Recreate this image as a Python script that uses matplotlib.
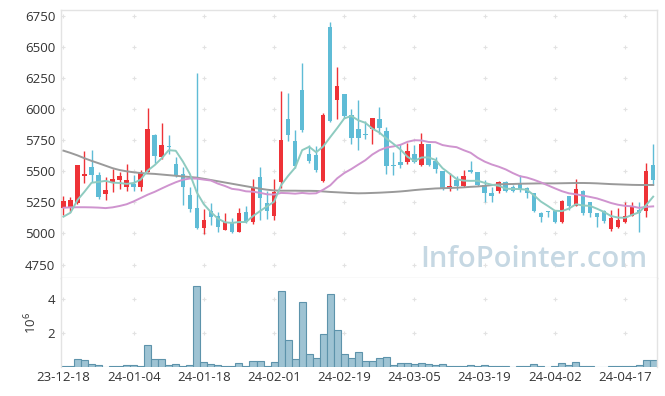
import matplotlib
matplotlib.use('Agg')
import matplotlib.pyplot as plt
import numpy as np

plt.rcParams['font.family'] = ['Open Sans', 'DejaVu Sans']

# daily candles, 2023-12-18 .. 2024-04-23 (85 trading days)
opens = [5202, 5216, 5248, 5462, 5532, 5468, 5318, 5414, 5430, 5374,
         5398, 5374, 5497, 5792, 5612, 5703, 5559, 5476, 5310, 5205,
         5041, 5183, 5138, 5031, 5090, 5015, 5170, 5090, 5452, 5242,
         5143, 5411, 5920, 5744, 6154, 5639, 5631, 5425, 6658, 6073,
         6122, 5950, 5839, 5803, 5837, 5920, 5824, 5553, 5575, 5577,
         5639, 5551, 5719, 5585, 5502, 5360, 5430, 5384, 5510, 5497,
         5390, 5328, 5339, 5417, 5376, 5398, 5363, 5323, 5162, 5183,
         5183, 5095, 5301, 5221, 5342, 5256, 5162, 5181, 5033, 5055,
         5095, 5143, 5189, 5183, 5551]
highs = [5302, 5291, 5548, 5666, 5671, 5497, 5452, 5518, 5497, 5556,
         5473, 5510, 6012, 5800, 5886, 5792, 5612, 5537, 5377, 6288,
         5197, 5242, 5175, 5162, 5122, 5202, 5224, 5438, 5532, 5344,
         5435, 6148, 6127, 5832, 6368, 5712, 5704, 5966, 6703, 6341,
         6122, 6005, 6070, 5907, 5931, 6014, 5859, 5658, 5719, 5725,
         5711, 5805, 5719, 5618, 5502, 5489, 5465, 5510, 5583, 5497,
         5430, 5376, 5422, 5425, 5390, 5470, 5376, 5323, 5175, 5183,
         5189, 5269, 5301, 5435, 5350, 5256, 5162, 5189, 5189, 5202,
         5256, 5256, 5256, 5569, 5719]
lows = [5149, 5175, 5237, 5409, 5417, 5275, 5269, 5331, 5360, 5344,
        5344, 5344, 5497, 5570, 5596, 5636, 5457, 5229, 5176, 5036,
        4996, 5068, 5015, 5031, 5001, 5015, 5082, 5074, 5108, 5116,
        5108, 5363, 5744, 5524, 5819, 5569, 5497, 5417, 5899, 5921,
        5926, 5720, 5671, 5757, 5719, 5797, 5478, 5470, 5529, 5559,
        5564, 5543, 5543, 5489, 5350, 5344, 5350, 5376, 5484, 5382,
        5250, 5250, 5323, 5336, 5331, 5331, 5283, 5175, 5095, 5130,
        5087, 5087, 5189, 5221, 5149, 5130, 5055, 5082, 5023, 5041,
        5087, 5143, 5015, 5135, 5390]
closes = [5261, 5269, 5548, 5478, 5473, 5296, 5350, 5438, 5462, 5427,
          5371, 5484, 5837, 5626, 5709, 5693, 5468, 5377, 5200, 5044,
          5108, 5130, 5052, 5090, 5015, 5162, 5090, 5371, 5288, 5183,
          5331, 5752, 5792, 5545, 5832, 5586, 5510, 5953, 5907, 6186,
          5947, 5768, 5768, 5789, 5931, 5845, 5545, 5543, 5551, 5663,
          5577, 5719, 5551, 5516, 5363, 5382, 5382, 5462, 5497, 5390,
          5323, 5304, 5414, 5342, 5344, 5350, 5323, 5183, 5135, 5175,
          5095, 5261, 5221, 5358, 5167, 5162, 5135, 5103, 5122, 5108,
          5141, 5221, 5167, 5502, 5430]
volumes_m = [0.10, 0.10, 0.50, 0.40, 0.20, 0.14, 0.04, 0.08, 0.08, 0.14,
             0.14, 0.08, 1.33, 0.50, 0.50, 0.14, 0.20, 0.08, 0.14, 4.77,
             0.32, 0.20, 0.14, 0.08, 0.08, 0.26, 0.08, 0.38, 0.38, 0.08,
             0.32, 4.47, 1.62, 0.50, 3.82, 0.79, 0.55, 1.98, 4.30, 2.22,
             0.79, 0.55, 0.91, 0.38, 0.38, 0.55, 0.61, 0.14, 0.26, 0.26,
             0.20, 0.26, 0.20, 0.14, 0.20, 0.08, 0.08, 0.08, 0.14, 0.08,
             0.14, 0.08, 0.08, 0.08, 0.03, 0.08, 0.08, 0.20, 0.08, 0.03,
             0.08, 0.26, 0.14, 0.32, 0.08, 0.08, 0.03, 0.03, 0.08, 0.08,
             0.08, 0.08, 0.14, 0.44, 0.44]

ma5 = [5135, 5167, 5269, 5336, 5408, 5415, 5423, 5409, 5406, 5399,
       5406, 5433, 5506, 5550, 5605, 5670, 5665, 5580, 5480, 5330,
       5235, 5172, 5120, 5090, 5085, 5092, 5092, 5140, 5180, 5218,
       5255, 5388, 5463, 5529, 5670, 5697, 5653, 5700, 5775, 5848,
       5925, 5945, 5910, 5890, 5843, 5812, 5764, 5721, 5675, 5617,
       5583, 5611, 5612, 5591, 5525, 5482, 5437, 5425, 5423, 5424,
       5407, 5392, 5384, 5360, 5358, 5357, 5352, 5308, 5257, 5221,
       5183, 5180, 5200, 5235, 5225, 5222, 5199, 5173, 5140, 5128,
       5126, 5150, 5170, 5228, 5296]
ma20 = [5207, 5210, 5211, 5211, 5210, 5208, 5204, 5210, 5221, 5235,
        5258, 5285, 5312, 5335, 5362, 5388, 5412, 5432, 5442, 5441,
        5433, 5426, 5401, 5382, 5359, 5352, 5339, 5336, 5327, 5315,
        5313, 5326, 5324, 5320, 5326, 5321, 5323, 5352, 5387, 5444,
        5486, 5518, 5554, 5589, 5635, 5669, 5691, 5700, 5713, 5737,
        5750, 5748, 5736, 5734, 5711, 5701, 5694, 5670, 5649, 5609,
        5578, 5555, 5537, 5515, 5486, 5461, 5450, 5432, 5411, 5387,
        5363, 5340, 5323, 5315, 5305, 5294, 5282, 5264, 5245, 5231,
        5222, 5218, 5206, 5214, 5218]
ma_long = [5666, 5648, 5628, 5605, 5584, 5565, 5545, 5525, 5510, 5500,
           5492, 5486, 5482, 5479, 5474, 5469, 5464, 5459, 5454, 5449,
           5440, 5430, 5420, 5410, 5400, 5390, 5380, 5370, 5360, 5352,
           5346, 5344, 5344, 5344, 5343, 5343, 5342, 5338, 5334, 5331,
           5328, 5325, 5323, 5324, 5326, 5328, 5331, 5334, 5338, 5343,
           5349, 5354, 5358, 5362, 5364, 5366, 5368, 5371, 5375, 5378,
           5383, 5389, 5395, 5397, 5398, 5400, 5401, 5402, 5403, 5403,
           5403, 5404, 5405, 5406, 5406, 5405, 5403, 5400, 5397, 5395,
           5393, 5391, 5390, 5390, 5390]

tick_labels = ['23-12-18', '24-01-04', '24-01-18', '24-02-01', '24-02-19',
               '24-03-05', '24-03-19', '24-04-02', '24-04-17']
price_ticks = [4750, 5000, 5250, 5500, 5750, 6000, 6250, 6500, 6750]
vol_ticks = [2, 4]

UP = '#ee3237'
DOWN = '#5fbcd6'
GRID = '#e2e2e2'
SPINE = '#e3e3e3'
TXT = '#333333'

o = np.array(opens)
c = np.array(closes)
h = np.array(highs)
l = np.array(lows)
x = np.arange(len(o))
tick_pos = x[::10]
colors = np.where(c >= o, UP, DOWN)

fig = plt.figure(figsize=(6.65, 3.96), dpi=100)
ax = fig.add_axes([0.0917, 0.298, 0.8958, 0.6767])
axv = fig.add_axes([0.0917, 0.0725, 0.8958, 0.2255], sharex=ax)

# grid drawn as small crosses at tick intersections
gx, gy = np.meshgrid(tick_pos, price_ticks)
ax.scatter(gx.ravel(), gy.ravel(), marker='+', s=12, color=GRID, linewidths=0.8, zorder=0)
gx, gy = np.meshgrid(tick_pos, vol_ticks)
axv.scatter(gx.ravel(), gy.ravel(), marker='+', s=12, color=GRID, linewidths=0.8, zorder=0)

# candles
ax.vlines(x, l, h, colors=colors, linewidth=1.0, zorder=2)
body = np.maximum(np.abs(c - o), 8)
ax.bar(x, body, bottom=np.minimum(o, c), width=0.64, color=colors, linewidth=0, zorder=3)

# moving averages
ax.plot(x, ma_long, color='#9a9a9a', lw=1.4, zorder=4)
ax.plot(x, ma20, color='#cf94cf', lw=1.4, zorder=4)
ax.plot(x, ma5, color='#8ecbc0', lw=1.4, zorder=4)

# volume
axv.bar(x, volumes_m, width=1.0, color='#9ec3d3', edgecolor='#5d93ab', linewidth=0.8, zorder=2)

ax.set_xlim(-0.35, 84.5)
ax.set_ylim(4642, 6797)
ax.set_yticks(price_ticks)
axv.set_ylim(0, 5.25)
axv.set_yticks(vol_ticks)
axv.set_xticks(tick_pos)
axv.set_xticklabels(tick_labels)
plt.setp(ax.get_xticklabels(), visible=False)

for a in (ax, axv):
    a.tick_params(length=0, labelsize=9.5, colors=TXT, pad=4)
    for s in a.spines.values():
        s.set_color(SPINE)
        s.set_linewidth(1.0)
axv.spines['bottom'].set_visible(False)
axv.spines['top'].set_visible(False)
axv.tick_params(axis='x', pad=3)

axv.set_ylabel(r'$\mathregular{10^6}$', fontsize=9.5, color=TXT, labelpad=6)

fig.text(0.974, 0.326, 'InfoPointer.com', ha='right', va='baseline',
         fontsize=21, fontweight='semibold', color='#c6d8e3', zorder=10)

fig.savefig('out.png', dpi=100)
